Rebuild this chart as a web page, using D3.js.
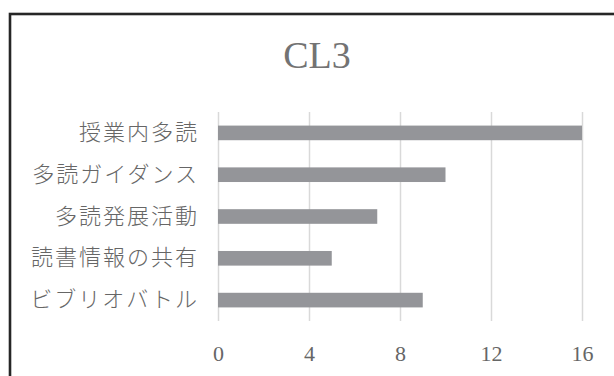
<!DOCTYPE html>
<html>
<head>
<meta charset="utf-8">
<script src="https://cdn.jsdelivr.net/npm/d3@7"></script>
<style>
  html, body { margin: 0; padding: 0; background: #fff; }
  svg { display: block; }
</style>
</head>
<body>
<script>
const title = "CL3";
const categories = ["授業内多読", "多読ガイダンス", "多読発展活動", "読書情報の共有", "ビブリオバトル"];
const values = [16, 10, 7, 5, 9];
const xTicks = [0, 4, 8, 12, 16];

const W = 614, H = 376;
const svg = d3.select("body").append("svg").attr("width", W).attr("height", H);

svg.append("rect").attr("width", W).attr("height", H).attr("fill", "#fff");

// chart border (extends past the image on right/bottom)
svg.append("rect")
  .attr("x", 10).attr("y", 14)
  .attr("width", W + 20).attr("height", H + 20)
  .attr("fill", "none").attr("stroke", "#262626").attr("stroke-width", 2.6);

const pL = 218, pR = 582, pT = 112, pB = 321;
const x = d3.scaleLinear().domain([0, 16]).range([pL, pR]);
const y = d3.scaleBand().domain(categories).range([pT, pB])
  .paddingInner(0.65).paddingOuter(0.325);

// gridlines
const grid = svg.append("g").attr("transform", `translate(0,${pB})`)
  .call(d3.axisBottom(x).tickValues(xTicks).tickSize(-(pB - pT)).tickFormat(""));
grid.select(".domain").remove();
grid.selectAll("line").attr("stroke", "#d9d9d9").attr("stroke-width", 1.5);

// bars
svg.append("g").selectAll("rect").data(categories).join("rect")
  .attr("x", x(0))
  .attr("y", d => y(d))
  .attr("width", (d, i) => x(values[i]) - x(0))
  .attr("height", y.bandwidth())
  .attr("fill", "#949599");

// x tick labels
const xa = svg.append("g").attr("transform", `translate(0,${pB})`)
  .call(d3.axisBottom(x).tickValues(xTicks).tickSize(0).tickPadding(24));
xa.select(".domain").remove();
xa.selectAll("text")
  .attr("font-family", "'Liberation Serif', 'DejaVu Serif', serif")
  .attr("font-size", 22).attr("fill", "#666");

// y category labels
const ya = svg.append("g").attr("transform", `translate(${pL},0)`)
  .call(d3.axisLeft(y).tickSize(0).tickPadding(19));
ya.select(".domain").remove();
ya.selectAll("text")
  .attr("font-family", "'Noto Sans CJK JP', sans-serif")
  .attr("font-weight", 300)
  .attr("font-size", 22)
  .attr("letter-spacing", "2px")
  .attr("fill", "#666");

// title
svg.append("text")
  .attr("x", 317).attr("y", 68)
  .attr("text-anchor", "middle")
  .attr("font-family", "'Liberation Serif', 'DejaVu Serif', serif")
  .attr("font-size", 38)
  .attr("fill", "#737373")
  .text(title);
</script>
</body>
</html>
